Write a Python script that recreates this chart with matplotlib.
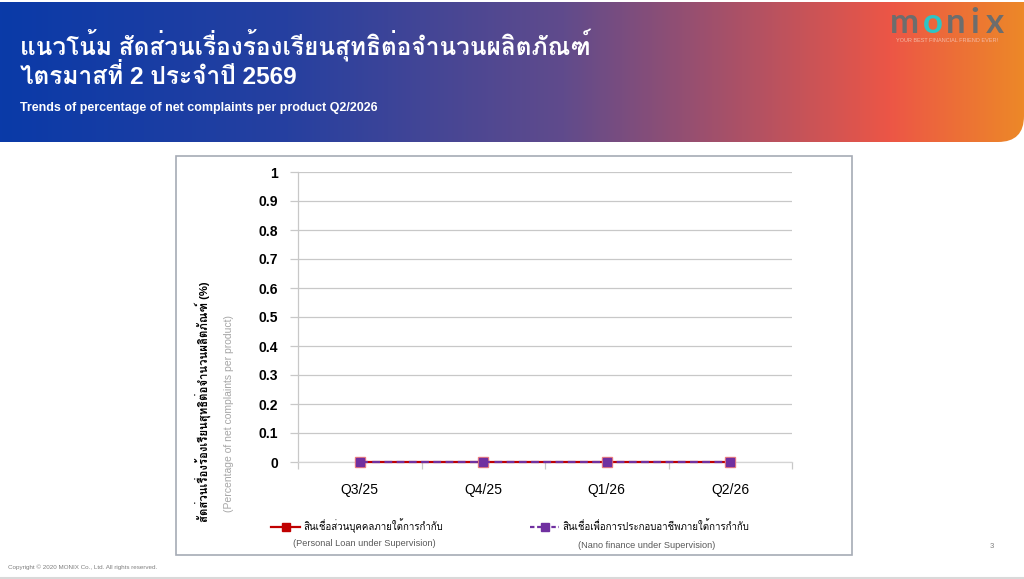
import numpy as np
import matplotlib
matplotlib.use('Agg')
import matplotlib.pyplot as plt
from matplotlib.patches import FancyBboxPatch, Rectangle
from matplotlib.lines import Line2D

# ข้อมูล
quarters = ['Q3/25', 'Q4/25', 'Q1/26', 'Q2/26']
personal_loan = [0, 0, 0, 0]
nano_finance = [0, 0, 0, 0]
y_ticks = [0, 0.1, 0.2, 0.3, 0.4, 0.5, 0.6, 0.7, 0.8, 0.9, 1]
y_tick_labels = ['0', '0.1', '0.2', '0.3', '0.4', '0.5', '0.6', '0.7', '0.8', '0.9', '1']

title_th = 'แนวโน้ม สัดส่วนเรื่องร้องเรียนสุทธิต่อจำนวนผลิตภัณฑ์'
title_th2 = 'ไตรมาสที่ 2 ประจำปี 2569'
subtitle = 'Trends of percentage of net complaints per product Q2/2026'
ylabel_th = 'สัดส่วนเรื่องร้องเรียนสุทธิต่อจำนวนผลิตภัณฑ์ (%)'
ylabel_en = '(Percentage of net complaints per product)'
legend_th = ['สินเชื่อส่วนบุคคลภายใต้การกำกับ', 'สินเชื่อเพื่อการประกอบอาชีพภายใต้การกำกับ']
legend_en = ['(Personal Loan under Supervision)', '(Nano finance under Supervision)']

RED = '#c00000'
PURPLE = '#7030a0'
# Loma วางวรรณยุกต์ซ้อนได้ถูกต้อง
FONTS = ['Liberation Sans', 'Loma']
plt.rcParams['font.family'] = FONTS

W, H = 1024, 579
fig = plt.figure(figsize=(W / 100, H / 100), dpi=100)

# พื้นหลัง (พิกัดเป็นพิกเซล)
bg = fig.add_axes([0, 0, 1, 1])
bg.set_xlim(0, W)
bg.set_ylim(H, 0)
bg.axis('off')

# แถบหัวเรื่องไล่สี
stops = np.array([0, 0.28, 0.55, 0.87, 1.0])
cols = np.array([[10, 58, 168], [38, 64, 160], [96, 75, 140], [236, 86, 70], [237, 136, 40]]) / 255
xs = np.linspace(0, 1, 512)
grad = np.stack([np.interp(xs, stops, cols[:, i]) for i in range(3)], axis=-1)[None, :, :]
im = bg.imshow(grad, extent=[0, W, 142, 2], aspect='auto', zorder=1)
clip = FancyBboxPatch((-40, -40), W + 40, 182, boxstyle='round,pad=0,rounding_size=26',
                      transform=bg.transData, facecolor='none', edgecolor='none')
bg.add_patch(clip)
im.set_clip_path(clip)

bg.text(20, 45, title_th, color='white', fontsize=17.6, fontweight='bold', va='center', ha='left')
bg.text(20, 77, title_th2, color='white', fontsize=17.6, fontweight='bold', va='center', ha='left')
bg.text(20, 108, subtitle, color='white', fontsize=9, fontweight='bold', va='center', ha='left')

# โลโก้
logo_letters = ['m', 'o', 'n', 'i', 'x']
logo_x = [904, 933, 956, 975, 995]
for ch, lx in zip(logo_letters, logo_x):
    bg.text(lx, 23, ch, color='#2ec4c4' if ch == 'o' else '#6d6d6d', fontsize=25,
            fontweight='bold', family='Lato', ha='center', va='center')
bg.text(947, 41, 'YOUR BEST FINANCIAL FRIEND EVER!', color='#f4b8a4', fontsize=4,
        family='Liberation Sans', ha='center', va='center')

# กรอบกราฟ
bg.add_patch(Rectangle((176, 156), 676, 399, facecolor='white', edgecolor='#a6abb5', lw=1.2, zorder=2))
bg.plot([0, W], [578, 578], color='#d9d9d9', lw=1.5, zorder=2)
bg.text(8, 567, 'Copyright © 2020 MONIX Co., Ltd. All rights reserved.', color='#7f7f7f', fontsize=4.5,
        va='center', ha='left')
bg.text(992, 547, '3', color='#7f7f7f', fontsize=5.5, va='center', ha='center')

# แกนกราฟ
ax = fig.add_axes([298 / W, 1 - 462 / H, 494 / W, 290 / H])
ax.set_facecolor('none')
x = np.arange(len(quarters))
ax.plot(x, personal_loan, color=RED, lw=1.6, marker='s', ms=7, mfc=RED, mec='#f08080',
        zorder=3, clip_on=False)
ax.plot(x, nano_finance, color=PURPLE, lw=1.6, ls=(0, (3.5, 2)), marker='s', ms=5.4,
        mfc=PURPLE, mec=PURPLE, zorder=4, clip_on=False)
ax.set_xlim(-0.5, len(quarters) - 0.5)
ax.set_ylim(0, 1)
ax.set_yticks(y_ticks)
ax.set_yticklabels(y_tick_labels, fontweight='bold', fontsize=10)
ax.yaxis.grid(True, color='#c8c8c8', lw=0.9)
ax.set_axisbelow(True)
ax.set_xticks(np.arange(len(quarters) + 1) - 0.5)
ax.set_xticklabels([])
ax.set_xticks(x, minor=True)
ax.set_xticklabels(quarters, minor=True, fontsize=10)
ax.tick_params(axis='x', which='minor', length=0, pad=15)
ax.tick_params(axis='x', which='major', length=5, color='#c8c8c8', width=0.9)
ax.tick_params(axis='y', length=5.5, color='#c8c8c8', width=0.9, pad=9)
for s in ['top', 'right']:
    ax.spines[s].set_visible(False)
ax.spines['left'].set_color('#c8c8c8')
ax.spines['bottom'].set_color('#d4d4d4')
ax.spines['left'].set_linewidth(0.9)
ax.spines['bottom'].set_linewidth(0.9)
ax.spines['left'].set_bounds(0, 1)

# ชื่อแกน Y
bg.text(203, 402, ylabel_th, rotation=90, fontsize=8.2, fontweight='bold', ha='center', va='center', zorder=5)
bg.text(229, 414, ylabel_en, rotation=90, fontsize=7.5, color='#a6a6a6', ha='center', va='center', zorder=5)

# คำอธิบายสัญลักษณ์
leg_x0 = [271, 530]
leg_eng_cx = [364, 647]
styles = [dict(color=RED, ls='-', mfc=RED, mec=RED), dict(color=PURPLE, ls=(0, (2, 1.2)), mfc=PURPLE, mec=PURPLE)]
for i in range(2):
    bg.add_line(Line2D([leg_x0[i], leg_x0[i] + 29], [527, 527], lw=1.6, marker=None,
                       color=styles[i]['color'], ls=styles[i]['ls'], zorder=5))
    bg.add_line(Line2D([leg_x0[i] + 14.5], [527], marker='s', ms=5.5, mfc=styles[i]['mfc'],
                       mec=styles[i]['mec'], ls='none', zorder=6))
    bg.text(leg_x0[i] + 32, 526, legend_th[i], fontsize=7.0, ha='left', va='center', zorder=5)
    bg.text(leg_eng_cx[i], 543 + 3 * i, legend_en[i], fontsize=6.6, color='#595959',
            ha='center', va='center', zorder=5)

fig.savefig('out.png', dpi=100)
